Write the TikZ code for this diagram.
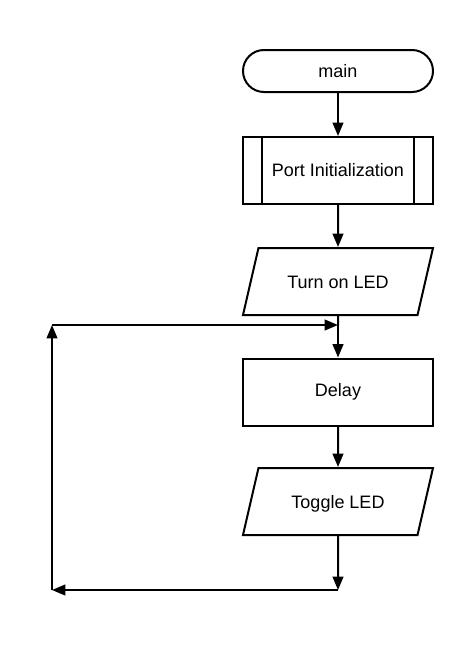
\documentclass[tikz,border=0pt]{standalone}
\usepackage{fontspec}
\setmainfont{Liberation Sans}
\usetikzlibrary{shapes.geometric,arrows.meta}
\tikzstyle{terminal}=[draw,rounded corners=15.75pt,minimum width=142.5pt,minimum height=31.5pt]
\tikzstyle{process}=[draw,minimum width=142.5pt,minimum height=50.25pt]
\tikzstyle{subproc}=[process,path picture={
    \draw ([xshift=14.25pt]path picture bounding box.north west) -- ([xshift=14.25pt]path picture bounding box.south west);
    \draw ([xshift=-14.25pt]path picture bounding box.north east) -- ([xshift=-14.25pt]path picture bounding box.south east);}]
\tikzstyle{io}=[draw,trapezium,trapezium left angle=77,trapezium right angle=103,trapezium stretches body,
    text height=11.5pt,text depth=1.5pt,inner ysep=18.625pt,minimum width=142.5pt]

\begin{document}
\begin{tikzpicture}[x=0.75pt,y=-0.75pt,line width=1.5pt,>={Triangle[length=10pt,width=8pt]},font=\fontsize{13.5}{16}\selectfont]
\useasboundingbox (0,0) rectangle (474,650);
  \foreach \place/\name/\kind/\txt in {{(338,71)/main/terminal/main},
                                        {(338,170.5)/init/subproc/Port Initialization},
                                        {(338,281.5)/led/io/Turn on LED},
                                        {(338,392)/delay/process/Delay},
                                        {(338,501.5)/toggle/io/Toggle LED}}
    \node[\kind] (\name) at \place {\txt};
  % loop corners
  \coordinate (j) at (338,325);
  \coordinate (b) at (338,590);
  \coordinate (c) at (52,590);
  \coordinate (d) at (52,325);
  \draw (led) -- (j);
  \foreach \source/\dest in {main/init,init/led,j/delay,delay/toggle,toggle/b,b/c,c/d,d/j}
      \path (\source) edge[->] (\dest);
\end{tikzpicture}
\end{document}
